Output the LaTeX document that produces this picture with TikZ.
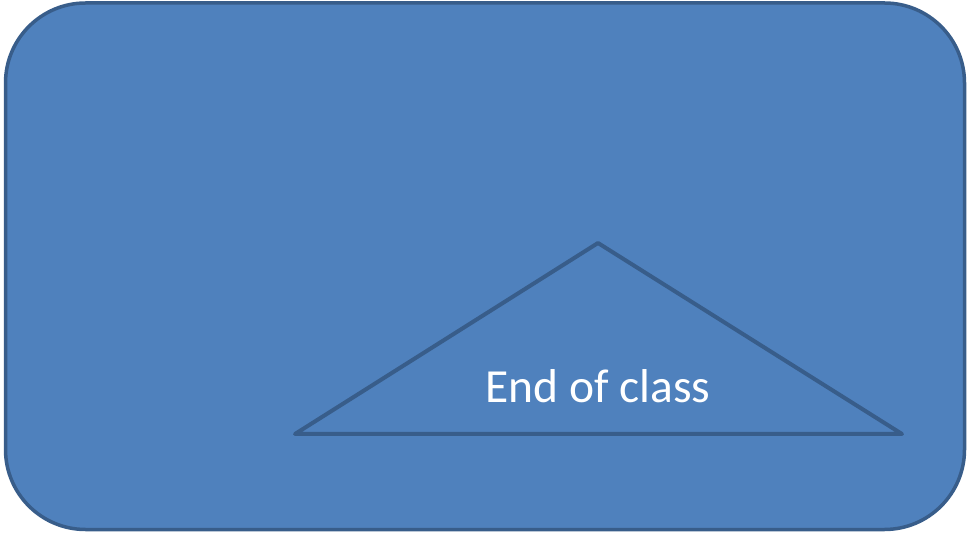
\documentclass[tikz,border=0pt]{standalone}
\usepackage{fontspec}
\setmainfont{Carlito}
\definecolor{boxfill}{HTML}{4F81BD}
\definecolor{boxline}{HTML}{385D8A}
\tikzset{
  panel/.style={draw=boxline, fill=boxfill, line width=3.5pt, rounded corners=80pt},
  tri/.style={draw=boxline, line width=4pt, line join=round, line cap=round},
  label/.style={text=white, font=\fontsize{47.5}{57}\selectfont, inner sep=0pt, anchor=base}
}
\begin{document}
\begin{tikzpicture}[x=1pt,y=1pt]
\useasboundingbox (0,0) rectangle (969,533);
\draw[panel] (5.5,3.5) rectangle (964.5,530);
\coordinate (apex) at (598,290);
\coordinate (bl) at (295,99);
\coordinate (br) at (902,99);
\draw[tri] (apex) -- (br) -- (bl) -- cycle;
\node[label] (txt) at (598,130) {End of class};
\end{tikzpicture}
\end{document}
